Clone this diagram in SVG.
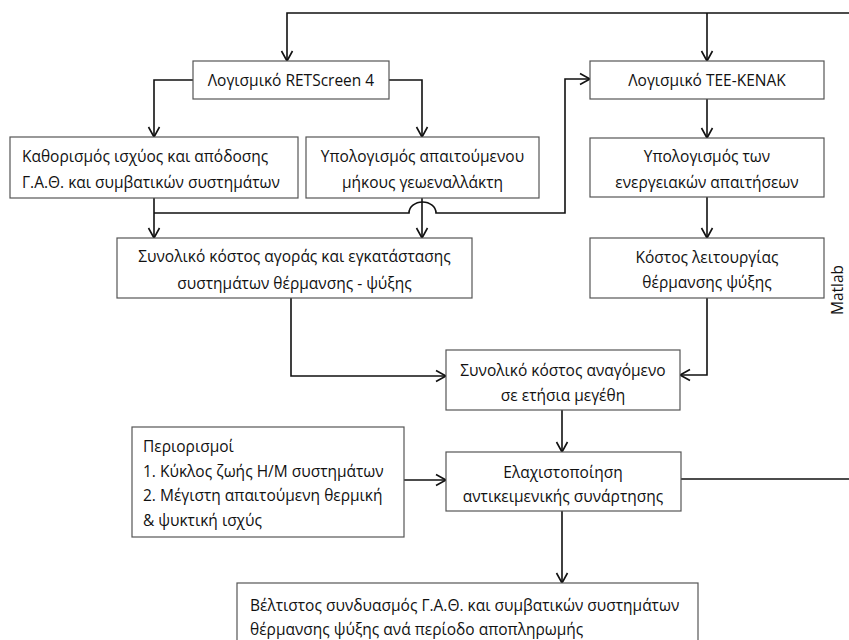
<svg xmlns="http://www.w3.org/2000/svg" width="849" height="640" viewBox="0 0 849 640">
<style>
.box{fill:#fff;stroke:#555;stroke-width:1.2}
.t{font-family:"Open Sans","Noto Sans",sans-serif;font-size:15.5px;fill:#111}
.c{text-anchor:middle}
.ln{fill:none;stroke:#111;stroke-width:1.6}
</style>
<defs>
<marker id="a" markerUnits="userSpaceOnUse" markerWidth="14" markerHeight="14" viewBox="0 0 14 14" refX="12" refY="7" orient="auto">
<path d="M2,1.5 L12,7 L2,12.5" fill="none" stroke="#111" stroke-width="1.6"/>
</marker>
</defs>
<rect width="849" height="640" fill="#fff"/>
<g id="connectors" class="ln">
<path d="M849,13 H287 V61" marker-end="url(#a)"/>
<path d="M707,13 V61" marker-end="url(#a)"/>
<path d="M193,80 H154 V137" marker-end="url(#a)"/>
<path d="M389,80 H422 V137" marker-end="url(#a)"/>
<path d="M154,198 V238" marker-end="url(#a)"/>
<path d="M422,198 V238" marker-end="url(#a)"/>
<path d="M154,213 H409 A13.5,11 0 0 1 436,213 H565 V79 H590" marker-end="url(#a)"/>
<path d="M707,99 V138" marker-end="url(#a)"/>
<path d="M707,197 V238" marker-end="url(#a)"/>
<path d="M707,298 V375 H680" marker-end="url(#a)"/>
<path d="M291,298 V376 H446" marker-end="url(#a)"/>
<path d="M562,410 V452" marker-end="url(#a)"/>
<path d="M404,480 H446" marker-end="url(#a)"/>
<path d="M681,479 H849"/>
<path d="M562,511 V583" marker-end="url(#a)"/>
</g>
<g id="retscreen"><rect class="box" x="193" y="61" width="196" height="38"/><text class="t c" x="291" y="85.5">Λογισμικό RETScreen 4</text></g>
<g id="teekenak"><rect class="box" x="590" y="61" width="234" height="38"/><text class="t c" x="707" y="85.5">Λογισμικό TEE-KENAK</text></g>
<g id="kathorismos"><rect class="box" x="10" y="137" width="288" height="61"/><text class="t" x="22" y="161.5">Καθορισμός ισχύος και απόδοσης</text><text class="t" x="22" y="187.5">Γ.Α.Θ. και συμβατικών συστημάτων</text></g>
<g id="ypologismos-mikous"><rect class="box" x="306" y="137" width="233" height="61"/><text class="t c" x="422.5" y="161.5">Υπολογισμός απαιτούμενου</text><text class="t c" x="422.5" y="187.5">μήκους γεωεναλλάκτη</text></g>
<g id="ypologismos-energeiakon"><rect class="box" x="590" y="138" width="234" height="59"/><text class="t c" x="707" y="161.5">Υπολογισμός των</text><text class="t c" x="707" y="187.5">ενεργειακών απαιτήσεων</text></g>
<g id="kostos-agoras"><rect class="box" x="117" y="238" width="355" height="60"/><text class="t c" x="294.5" y="261.5">Συνολικό κόστος αγοράς και εγκατάστασης</text><text class="t c" x="294.5" y="288.5">συστημάτων θέρμανσης - ψύξης</text></g>
<g id="kostos-leitourgias"><rect class="box" x="590" y="238" width="234" height="60"/><text class="t c" x="707" y="262.5">Κόστος λειτουργίας</text><text class="t c" x="707" y="287.5">θέρμανσης ψύξης</text></g>
<g id="kostos-etisio"><rect class="box" x="446" y="350" width="234" height="60"/><text class="t c" x="563" y="375.5">Συνολικό κόστος αναγόμενο</text><text class="t c" x="563" y="400.5">σε ετήσια μεγέθη</text></g>
<g id="periorismoi"><rect class="box" x="132" y="427" width="272" height="110"/><text class="t" x="143" y="451.5">Περιορισμοί</text><text class="t" x="143" y="476.5">1. Κύκλος ζωής Η/Μ συστημάτων</text><text class="t" x="143" y="500.5">2. Μέγιστη απαιτούμενη θερμική</text><text class="t" x="143" y="525.5">&amp; ψυκτική ισχύς</text></g>
<g id="elaxistopoiisi"><rect class="box" x="446" y="452" width="235" height="59"/><text class="t c" x="563" y="477.5">Ελαχιστοποίηση</text><text class="t c" x="563" y="501.5">αντικειμενικής συνάρτησης</text></g>
<g id="veltistos"><rect class="box" x="237" y="583" width="461" height="65"/><text class="t" x="250" y="610.5">Βέλτιστος συνδυασμός Γ.Α.Θ. και συμβατικών συστημάτων</text><text class="t" x="250" y="635">θέρμανσης ψύξης ανά περίοδο αποπληρωμής</text></g>
<g id="matlab"><text class="t c" transform="translate(843,290) rotate(-90)" font-size="14">Matlab</text></g>
</svg>
